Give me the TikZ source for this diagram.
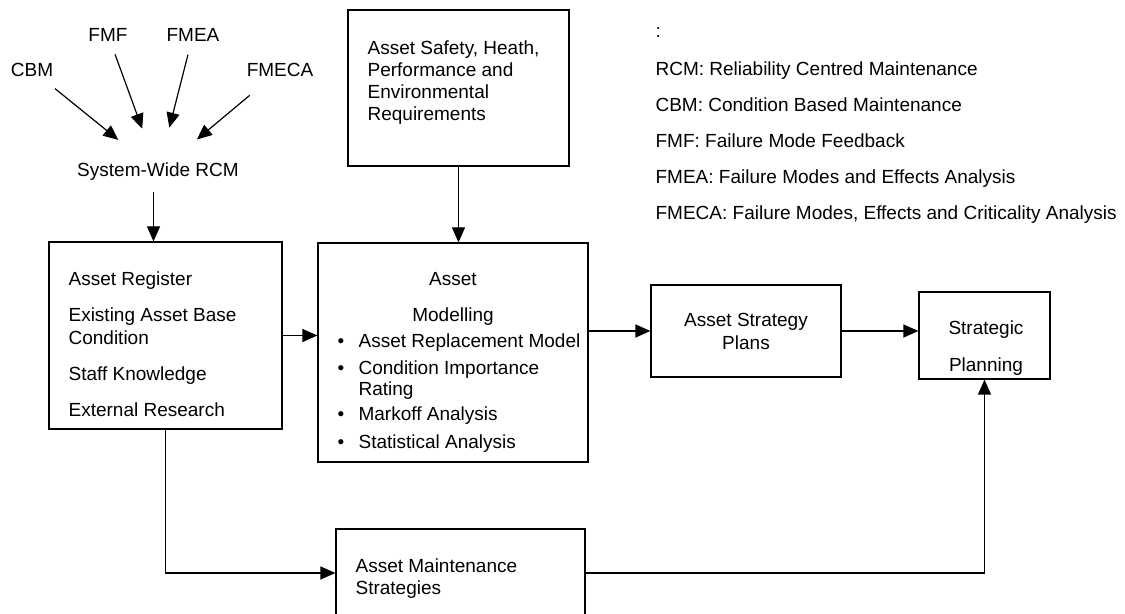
\documentclass[tikz,border=0pt]{standalone}
\usepackage{fontspec}
\setmainfont{Liberation Sans}
\usetikzlibrary{arrows.meta, positioning}
\tikzset{x=0.5pt, y=-0.5pt, >={Triangle[length=7.5pt, width=6.5pt]}}

\begin{document}
\begin{tikzpicture}
% Style
[
    line width=0.6pt,
    every node/.style={inner sep=0pt, font=\fontsize{9.5}{11.5}\selectfont},
    box/.style={draw, inner sep=0pt},
    feed/.style={->, shorten <=6.5pt, shorten >=18pt}
]

%=================================== Start ===================================
{
    % Page
    \useasboundingbox (0,0) rectangle (1125,614);
    \fill[white] (0,0) rectangle (1125,614);
    \clip (0,0) rectangle (1125,614);

    % Inputs of the RCM
    \node (cbm)   at (32,70)   {CBM};
    \node (fmf)   at (108,35)  {FMF};
    \node (fmea)  at (193,35)  {FMEA};
    \node (fmeca) at (280,70)  {FMECA};
    \node (rcm)   at (158,172) {System-Wide RCM};

    \draw[feed, shorten <=9pt] (cbm) -- (rcm);
    \draw[feed] (fmf) -- (rcm);
    \draw[feed] (fmea) -- (rcm);
    \draw[feed, shorten <=14pt] (fmeca) -- (rcm);

    % Boxes
    \node[box, minimum width=116.5pt, minimum height=93.5pt] (register)  at (165.5,335.5) {};
    \node[box, minimum width=110.5pt, minimum height=78pt]   (safety)    at (458.5,88)    {};
    \node[box, minimum width=135pt,   minimum height=109.5pt] (model)    at (453,352.5)   {};
    \node[box, minimum width=95pt,    minimum height=46pt, align=center] (plans) at (746,331) {Asset Strategy\\Plans};
    \node[box, minimum width=65.5pt,  minimum height=43.5pt] (strategic) at (984.5,335.5) {};
    \node[box, minimum width=124.5pt, minimum height=44pt]   (maint)     at (460.5,573)   {};

    % Texts in the boxes
    \node[anchor=north west, align=left] (register-text) at (68,271)
        {Asset Register\\[6.5pt]Existing Asset Base\\Condition\\[6.5pt]Staff Knowledge\\[6.5pt]External Research};
    \node[anchor=north west, align=left, font=\fontsize{9.5}{11}\selectfont] (safety-text) at (367,40)
        {Asset Safety, Heath,\\Performance and\\Environmental\\Requirements};
    \node[anchor=north, align=center] (model-title) at (453,272) {Asset\\[6.5pt]Modelling};
    \foreach \yy/\txt [count=\i] in {348/Asset Replacement Model, 375/Condition Importance, 421/Markoff Analysis, 449/Statistical Analysis} {
        \node[anchor=base] (dot-\i) at (341,\yy) {\textbullet};
        \node[anchor=base west] (item-\i) at (358,\yy) {\txt};
    }
    \node[anchor=base west] (item-rating) at (358,396) {Rating};
    \node[align=center, font=\fontsize{9.5}{18.5}\selectfont] (strategic-text) at (986,348) {Strategic\\Planning};
    \node[anchor=north west, align=left, font=\fontsize{9.5}{11}\selectfont] (maint-text) at (355,558)
        {Asset Maintenance\\Strategies};

    % Legend
    \node[anchor=base west] (legend-colon) at (655,38) {:};
    \node[anchor=north west, align=left, font=\fontsize{9.5}{18}\selectfont] (legend) at (655,61)
        {RCM: Reliability Centred Maintenance\\CBM: Condition Based Maintenance\\FMF: Failure Mode Feedback\\FMEA: Failure Modes and Effects Analysis\\FMECA: Failure Modes, Effects and Criticality Analysis};

    % Connectors
    \draw[->] ([xshift=-2.25pt, yshift=-5.5pt]rcm.south) -- ([xshift=-2.25pt]rcm.south |- register.north);
    \draw[->] (safety) -- (safety |- model.north);
    \draw[->] (register.east) -- (register.east -| model.west);
    \draw[->] (plans.west -| model.east) -- (plans.west);
    \draw[->] (plans.east) -- (plans.east -| strategic.west);
    \draw[->] (register.south) |- (maint.west);
    \draw[->] (maint.east) -| (strategic.south);
}
%==================================== END ====================================

\end{tikzpicture}
\end{document}
